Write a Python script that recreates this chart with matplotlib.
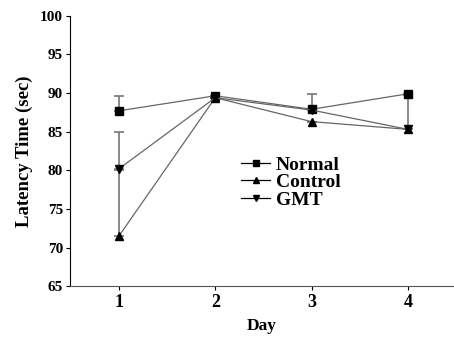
import numpy as np
import matplotlib.pyplot as plt

plt.rcParams['font.family'] = ['Liberation Serif', 'DejaVu Serif']
plt.rcParams['font.weight'] = 'bold'

days = [1, 2, 3, 4]
normal = [87.7, 89.65, 87.9, 89.9]
normal_err = [1.9, 0.0, 2.0, 0.0]
control = [71.5, 89.4, 86.3, 85.3]
control_err = [8.5, 0.0, 0.0, 0.0]
gmt = [80.2, 89.4, 87.8, 85.3]
gmt_err = [4.8, 0.0, 0.0, 4.5]

fig = plt.figure(figsize=(4.54, 3.37), dpi=100)
ax = fig.add_axes([0.154, 0.151, 0.846, 0.802])

series = [(normal, normal_err, 's', 'Normal'),
          (control, control_err, '^', 'Control'),
          (gmt, gmt_err, 'v', 'GMT')]
for vals, err, mk, lab in series:
    ax.errorbar(days, vals, yerr=[np.zeros(4), err], fmt='none',
                ecolor='#777777', elinewidth=1.2, capsize=3.5, capthick=1.2)
for vals, err, mk, lab in series:
    ax.plot(days, vals, color='#666666', lw=0.9, marker=mk, ms=6,
            mfc='black', mec='black', label=lab)

ax.set_xlim(0.49, 4.48)
ax.set_ylim(65, 100)
ax.set_xticks(days)
ax.set_yticks(np.arange(65, 101, 5))
ax.tick_params(axis='x', labelsize=13, length=3, pad=3)
ax.tick_params(axis='y', labelsize=11, length=3, pad=2)
for t in ax.get_xticklabels() + ax.get_yticklabels():
    t.set_fontweight('bold')
for s in ['top', 'right']:
    ax.spines[s].set_visible(False)
ax.spines['bottom'].set_color('#555555')

ax.set_xlabel('Day', fontsize=12.5, fontweight='bold', labelpad=5)
ax.set_ylabel('Latency Time (sec)', fontsize=13.5, fontweight='bold', labelpad=5)

leg = ax.legend(loc='upper left', bbox_to_anchor=(0.425, 0.51), frameon=False,
                fontsize=14, handlelength=1.5, handletextpad=0.3,
                labelspacing=0.0, borderaxespad=0)
for h in leg.legend_handles:
    h.set_color('black')
    h.set_markersize(5)

fig.savefig('out.png', dpi=100)
